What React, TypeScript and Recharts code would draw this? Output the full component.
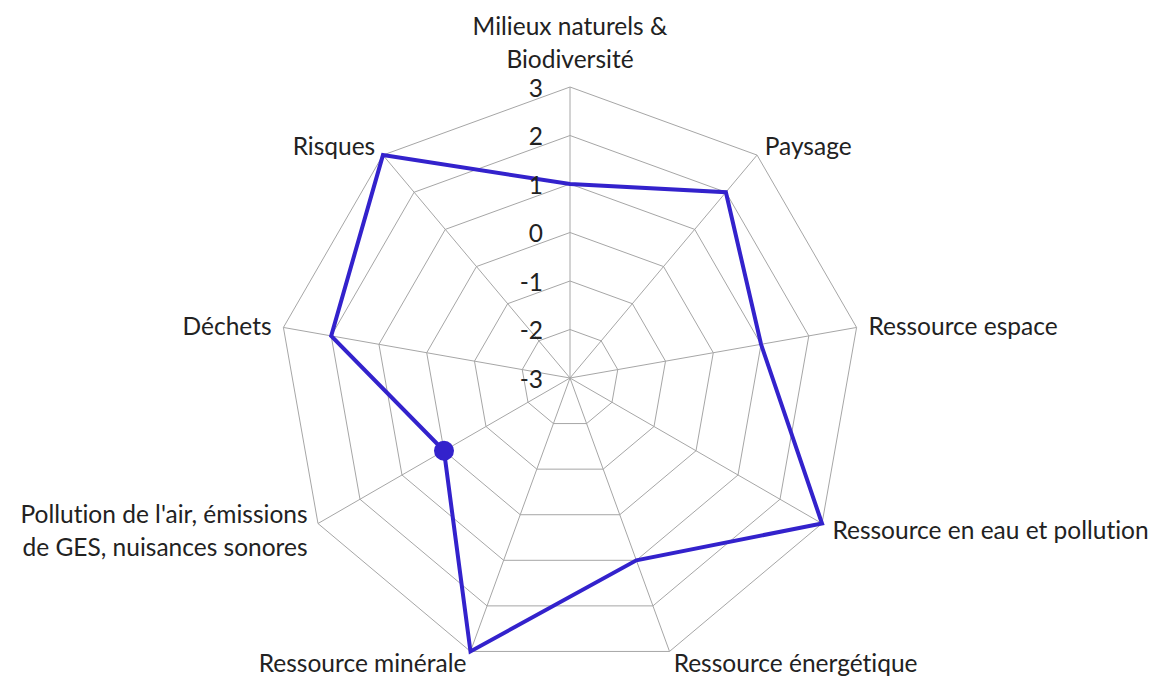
import React from 'react';
import { RadarChart, Radar, PolarGrid, PolarAngleAxis, PolarRadiusAxis } from 'recharts';

const categories: string[] = [
  'Milieux naturels &\nBiodiversité',
  'Paysage',
  'Ressource espace',
  'Ressource en eau et pollution',
  'Ressource énergétique',
  'Ressource minérale',
  "Pollution de l'air, émissions\nde GES, nuisances sonores",
  'Déchets',
  'Risques',
];
const scores: number[] = [1, 2, 1, 3, 1, 3, 0, 2, 3];
const radiusTicks: number[] = [-3, -2, -1, 0, 1, 2, 3];
const highlightedIndex = 6;

const data = categories.map((c, i) => ({ category: c, score: scores[i] }));

const W = 1150;
const H = 668;
const CX = 562;
const CY = 370;
const R = 291;
const FONT = 'Lato, "Open Sans", sans-serif';
const FS = 24.5;
const LH = 33;
const LINE_COLOR = '#3322CC';
const GRID_COLOR = '#A6A6A6';
const textStyle: React.CSSProperties = { fontVariantLigatures: 'none', fontFeatureSettings: '"liga" 0, "clig" 0' };

const AngleTick = (props: any) => {
  const { payload, index } = props;
  const n = categories.length;
  const a = (Math.PI / 2) - (index * 2 * Math.PI) / n;
  const ux = Math.cos(a);
  const uy = -Math.sin(a);
  const px = CX + (R + 12) * ux;
  const py = CY + (R + 12) * uy;
  const anchor = ux > 0.01 ? 'start' : ux < -0.01 ? 'end' : 'middle';
  const lines = String(payload.value).split('\n');
  let firstY: number;
  if (anchor === 'middle' && uy < 0) {
    firstY = py - LH * (lines.length - 1) - LH / 2;
  } else {
    firstY = py - (LH * (lines.length - 1)) / 2;
  }
  return (
    <text
      x={px}
      y={firstY}
      textAnchor={anchor}
      fontFamily={FONT}
      fontSize={FS}
      fill="#222"
      style={textStyle}
    >
      {lines.map((l, i) => (
        <tspan key={i} x={px} y={firstY + i * LH} dominantBaseline="central">
          {l}
        </tspan>
      ))}
    </text>
  );
};

const RadiusTick = (props: any) => {
  const { x, y, payload } = props;
  return (
    <text
      x={x - 27}
      y={y}
      textAnchor="end"
      dominantBaseline="central"
      fontFamily={FONT}
      fontSize={FS}
      fill="#222"
      style={textStyle}
    >
      {payload.value}
    </text>
  );
};

const Dot = (props: any) => {
  const { cx, cy, index } = props;
  if (index !== highlightedIndex) return <g key={index} />;
  return <circle key={index} cx={cx} cy={cy} r={10} fill={LINE_COLOR} stroke="none" />;
};

export default function App() {
  return (
    <div style={{ width: W, height: H, background: '#fff' }}>
      <RadarChart
        width={W}
        height={H}
        data={data}
        cx={CX}
        cy={CY}
        outerRadius={R}
        startAngle={90}
        endAngle={-270}
        margin={{ top: 0, right: 0, bottom: 0, left: 0 }}
      >
        <PolarGrid gridType="polygon" stroke={GRID_COLOR} strokeWidth={1} />
        <PolarAngleAxis dataKey="category" tick={<AngleTick />} tickLine={false} axisLine={false} />
        <PolarRadiusAxis
          angle={90}
          domain={[-3, 3]}
          ticks={radiusTicks as any}
          tickCount={7}
          tick={<RadiusTick />}
          axisLine={false}
          tickLine={false}
        />
        <Radar
          dataKey="score"
          stroke={LINE_COLOR}
          strokeWidth={4}
          fill="none"
          fillOpacity={0}
          dot={<Dot />}
          activeDot={false}
          isAnimationActive={false}
        />
      </RadarChart>
    </div>
  );
}
